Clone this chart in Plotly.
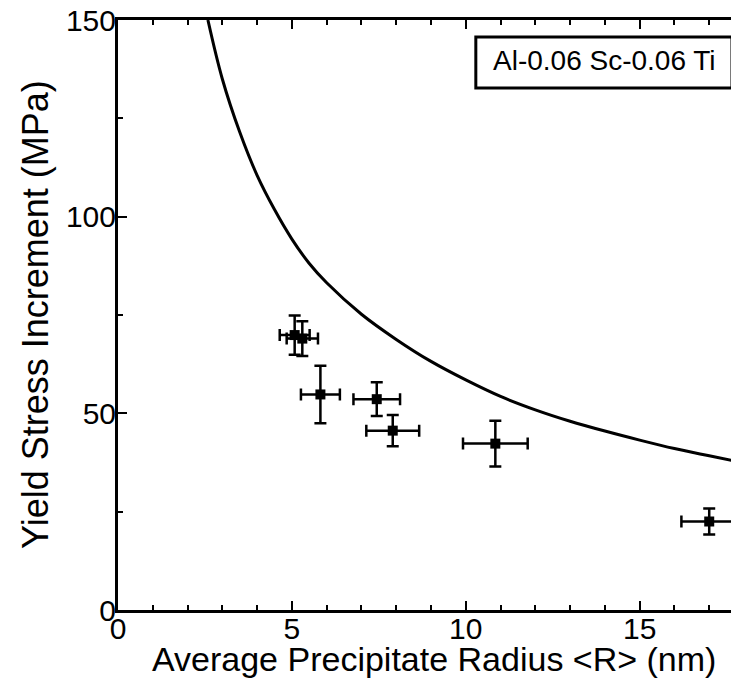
import plotly.graph_objects as go

radius = [5.08, 5.30, 5.82, 7.44, 7.90, 10.85, 17.00]
radius_err = [0.43, 0.45, 0.56, 0.67, 0.76, 0.93, 0.80]
stress = [69.9, 69.0, 54.8, 53.6, 45.6, 42.3, 22.5]
stress_err = [5.0, 4.4, 7.3, 4.3, 4.0, 5.8, 3.3]

# Model curve
model_r = [2.585, 3.0, 3.5, 4.0, 4.5, 5.0, 5.5, 6.0, 7.0, 8.0, 9.0, 10.0,
           11.0, 12.0, 13.0, 14.0, 15.0, 16.0, 17.0, 18.0]
model_s = [150.0, 135.0, 121.5, 110.5, 101.8, 94.3, 88.1, 83.2, 75.2, 68.8, 63.2, 58.5,
           54.3, 50.9, 48.0, 45.5, 43.2, 41.05, 39.2, 37.4]

x_range = [0, 18]
y_range = [0, 150]
label = "Al-0.06 Sc-0.06 Ti"
x_title = "Average Precipitate Radius &lt;R&gt; (nm)"
y_title = "Yield Stress Increment (MPa)"

FONT = "Liberation Sans, Arial, Helvetica, sans-serif"

fig = go.Figure()
fig.add_trace(go.Scatter(
    x=model_r, y=model_s, mode="lines",
    line=dict(color="black", width=3, shape="spline", smoothing=1.0),
    hoverinfo="skip", showlegend=False))
fig.add_trace(go.Scatter(
    x=radius, y=stress, mode="markers",
    marker=dict(symbol="square", size=10, color="black"),
    error_x=dict(type="data", array=radius_err, color="black", thickness=2.5, width=6),
    error_y=dict(type="data", array=stress_err, color="black", thickness=2.5, width=6),
    showlegend=False))

fig.update_layout(
    width=739, height=683,
    margin=dict(l=110, r=3, t=12, b=81),
    paper_bgcolor="white", plot_bgcolor="white",
    font=dict(family=FONT, color="black", size=28),
    xaxis=dict(range=x_range, showgrid=False, zeroline=False,
               showline=True, linecolor="black", linewidth=3, mirror="ticks",
               ticks="inside", ticklen=9, tickwidth=2, tickcolor="black",
               dtick=5, tick0=0, tickfont=dict(size=30, family=FONT),
               ticklabelstandoff=-10, ticklabeloverflow="allow",
               minor=dict(dtick=1, ticks="inside", ticklen=5, tickwidth=1.5, tickcolor="black"),
               automargin=False),
    yaxis=dict(range=y_range, showgrid=False, zeroline=False,
               showline=True, linecolor="black", linewidth=3, mirror="ticks",
               ticks="inside", ticklen=9, tickwidth=2, tickcolor="black",
               dtick=50, tick0=0, tickfont=dict(size=30, family=FONT),
               ticklabelstandoff=-7, ticklabeloverflow="allow",
               minor=dict(dtick=25, ticks="inside", ticklen=5, tickwidth=1.5, tickcolor="black"),
               automargin=False),
    shapes=[dict(type="rect", xref="x domain", yref="y domain",
                 x0=0.5716, x1=0.9808, y0=0.8847, y1=0.9712,
                 line=dict(color="black", width=3), fillcolor="white", layer="above")],
    annotations=[
        dict(text=label, xref="x domain", yref="y domain", x=0.7778, y=0.931,
             xanchor="center", yanchor="middle", showarrow=False,
             font=dict(size=28, family=FONT, color="black")),
        dict(text=x_title, xref="x domain", yref="y domain", x=0.5, y=0,
             xanchor="center", yanchor="middle", xshift=3, yshift=-49, showarrow=False,
             font=dict(size=34, family=FONT, color="black")),
        dict(text=y_title, xref="x domain", yref="y domain", x=0, y=0.5, textangle=-90,
             xanchor="center", yanchor="middle", xshift=-83, showarrow=False,
             font=dict(size=36, family=FONT, color="black")),
    ],
)

fig.write_html("out.html")
